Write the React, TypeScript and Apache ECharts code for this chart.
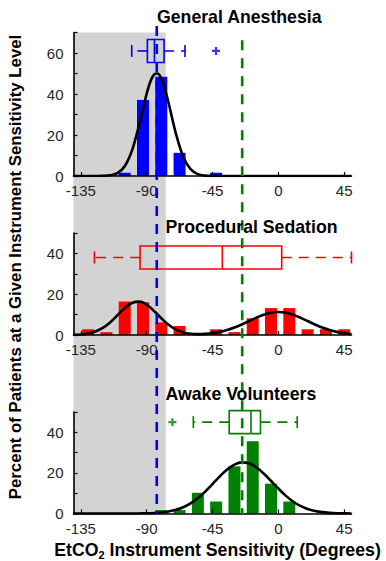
import React, { useEffect, useRef } from 'react';
import * as echarts from 'echarts';

// ---------- data ----------
const X_TICKS = [-135, -90, -45, 0, 45];

// General Anesthesia histogram (bin centres, percent)
const GA_BINS = [-105, -92.5, -80, -67.5, -42.5];
const GA_PCT = [1.6, 37.1, 48.4, 11.3, 1.6];
// Procedural Sedation histogram
const PS_BINS = [-130, -117.5, -105, -92.5, -80, -67.5, -42.5, -30, -17.5, -5, 7.5, 20, 32.5, 45];
const PS_PCT = [2.8, 1.4, 16.4, 16.0, 6.2, 4.4, 2.8, 1.4, 8.2, 13.2, 13.2, 2.8, 2.8, 2.8];
// Awake Volunteers histogram
const AV_BINS = [-80, -67.5, -55, -42.5, -30, -17.5, -5, 7.5];
const AV_PCT = [1.7, 1.7, 10.2, 5.9, 23.2, 35.6, 14.7, 5.9];

// fitted curves
const GA_FIT_X = [-140, -130, -125, -120, -115, -110, -105, -100, -95, -90, -87.5, -85, -82.5, -80, -77.5, -75, -70, -65, -60, -55, -50, -45, -40, -30, 50];
const GA_FIT_Y = [0, 0, 0.01, 0.06, 0.33, 1.43, 4.78, 12.5, 25.3, 40.1, 46.0, 49.5, 50.0, 47.5, 42.4, 35.6, 20.7, 9.4, 3.33, 0.92, 0.2, 0.03, 0, 0, 0];

const PS_FIT_X = [-140, -135, -130, -125, -120, -115, -110, -105, -100, -95, -90, -85, -80, -75, -70, -65, -60, -55, -50, -45, -40, -35, -30, -25, -20, -15, -10, -5, 0, 5, 10, 15, 20, 25, 30, 35, 40, 45, 50];
const PS_FIT_Y = [0.09, 0.27, 0.72, 1.69, 3.45, 6.18, 9.66, 13.2, 15.7, 16.36, 14.9, 11.8, 8.2, 5.0, 2.67, 1.28, 0.62, 0.43, 0.55, 0.91, 1.53, 2.44, 3.67, 5.17, 6.85, 8.53, 9.97, 10.95, 11.3, 10.95, 9.97, 8.53, 6.85, 5.17, 3.67, 2.44, 1.53, 0.9, 0.5];

const AV_FIT_X = [-140, -110, -100, -95, -90, -85, -80, -75, -70, -65, -60, -55, -50, -45, -40, -35, -30, -25, -20, -15, -10, -5, 0, 5, 10, 15, 20, 25, 30, 35, 40, 45, 50];
const AV_FIT_Y = [0, 0, 0.02, 0.05, 0.11, 0.24, 0.5, 0.98, 1.79, 3.08, 4.99, 7.58, 10.8, 14.5, 18.3, 21.7, 24.1, 25.2, 24.7, 22.8, 19.7, 16.0, 12.3, 8.8, 5.9, 3.76, 2.24, 1.25, 0.66, 0.33, 0.15, 0.07, 0.03];

// box plots: [lower whisker, Q1, median, Q3, upper whisker]
const GA_BOX = [-100.2, -89.5, -84.7, -78.1, -63.8];
const GA_OUTLIERS = [-42.6];
const PS_BOX = [-125.7, -94.5, -38.3, 2.3, 50];
const AV_BOX = [-58.1, -33.6, -18.7, -12.2, 12.9];
const AV_OUTLIERS = [-72.4];

// reference annotations
const SHADE_RANGE = [-140, -77];
const BLUE_LINE_X = -83.1;
const GREEN_LINE_X = -24.7;

// ---------- layout / style ----------
const FONT = "'Liberation Sans', Arial, Helvetica, sans-serif";
const BLUE = '#0000ff';
const RED = '#ff0000';
const GREEN = '#008000';
const BOX_Y = [61, 38, 45];

const GRID_LEFT = 73.5;
const GRID_W = 278;

function panelX(i: number) {
  return {
    type: 'value', gridIndex: i, min: -140, max: 50, z: 3,
    axisLine: { show: true, onZero: false, lineStyle: { color: '#000', width: 1.6 } },
    axisTick: { show: true, inside: true, length: 4, customValues: X_TICKS, lineStyle: { color: '#000', width: 1.2 } },
    axisLabel: { customValues: X_TICKS, margin: 7, fontSize: 15, color: '#262626', fontFamily: FONT },
    splitLine: { show: false },
  };
}
function panelY(i: number, max: number) {
  return {
    type: 'value', gridIndex: i, min: 0, max, interval: 10, z: 3,
    axisLine: { show: true, onZero: false, lineStyle: { color: '#000', width: 1.6 } },
    axisTick: { show: true, inside: true, length: 4, lineStyle: { color: '#000', width: 1.2 } },
    axisLabel: {
      formatter: (v: number) => (v % 20 === 0 ? String(v) : ''),
      margin: 10, fontSize: 15, color: '#262626', fontFamily: FONT,
    },
    splitLine: { show: false },
  };
}

function barSeries(i: number, bins: number[], pct: number[], color: string) {
  return {
    type: 'bar', xAxisIndex: i, yAxisIndex: i, z: 2, barWidth: 12,
    itemStyle: { color }, data: bins.map((b, k) => [b, pct[k]]),
  };
}
function fitSeries(i: number, xs: number[], ys: number[]) {
  return {
    type: 'line', xAxisIndex: i, yAxisIndex: i, z: 4, smooth: 0.35, symbol: 'none',
    lineStyle: { color: '#000', width: 2.6 }, data: xs.map((x, k) => [x, ys[k]]),
  };
}
function boxSeries(i: number, stats: number[], y: number, color: string) {
  return {
    type: 'custom', xAxisIndex: i, yAxisIndex: i, z: 4, clip: false,
    encode: { x: [1, 2, 3, 4, 5], y: 0 },
    data: [[y, ...stats]],
    renderItem: (params: any, api: any) => {
      const yc = api.value(0);
      const c = (x: number) => api.coord([x, yc]);
      const lo = c(api.value(1)), q1 = c(api.value(2)), md = c(api.value(3)), q3 = c(api.value(4)), hi = c(api.value(5));
      const Y = lo[1];
      const H = 11.5, CAP = 6;
      const solid = { stroke: color, lineWidth: 1.6, fill: 'none' };
      const dashed = { stroke: color, lineWidth: 1.6, lineDash: [10, 7] };
      return {
        type: 'group',
        children: [
          { type: 'rect', shape: { x: q1[0], y: Y - H, width: q3[0] - q1[0], height: 2 * H }, style: solid },
          { type: 'line', shape: { x1: md[0], y1: Y - H, x2: md[0], y2: Y + H }, style: solid },
          { type: 'line', shape: { x1: q1[0], y1: Y, x2: lo[0], y2: Y }, style: dashed },
          { type: 'line', shape: { x1: q3[0], y1: Y, x2: hi[0], y2: Y }, style: dashed },
          { type: 'line', shape: { x1: lo[0], y1: Y - CAP, x2: lo[0], y2: Y + CAP }, style: solid },
          { type: 'line', shape: { x1: hi[0], y1: Y - CAP, x2: hi[0], y2: Y + CAP }, style: solid },
        ],
      };
    },
  };
}
function outlierSeries(i: number, xs: number[], y: number, color: string) {
  return {
    type: 'scatter', xAxisIndex: i, yAxisIndex: i, z: 4,
    symbol: 'path://M3.6,0H6.4V3.6H10V6.4H6.4V10H3.6V6.4H0V3.6H3.6Z', symbolSize: 8,
    itemStyle: { color }, data: xs.map((x) => [x, y]),
  };
}
function vLineSeries(x: number, top: number, color: string) {
  return {
    type: 'custom', xAxisIndex: 3, yAxisIndex: 3, z: 6, silent: true, clip: false,
    encode: { x: 0, y: [1, 2] },
    data: [[x, 0, top]],
    renderItem: (params: any, api: any) => {
      const p0 = api.coord([api.value(0), api.value(2)]);
      const p1 = api.coord([api.value(0), api.value(1)]);
      return {
        type: 'line',
        shape: { x1: p0[0], y1: p0[1], x2: p1[0], y2: p1[1] },
        style: { stroke: color, lineWidth: 2.6, lineDash: [10, 8] },
      };
    },
  };
}

const option: any = {
  animation: false,
  grid: [
    { left: GRID_LEFT, top: 32.5, width: GRID_W, height: 143.5, outerBoundsMode: 'none' },
    { left: GRID_LEFT, top: 233, width: GRID_W, height: 102, outerBoundsMode: 'none' },
    { left: GRID_LEFT, top: 412, width: GRID_W, height: 101.5, outerBoundsMode: 'none' },
    { left: GRID_LEFT, top: 26, width: GRID_W, height: 487.5, outerBoundsMode: 'none' },
  ],
  xAxis: [
    panelX(0), panelX(1), panelX(2),
    { type: 'value', gridIndex: 3, min: -140, max: 50, show: false },
  ],
  yAxis: [
    panelY(0, 70), panelY(1, 50), panelY(2, 50),
    { type: 'value', gridIndex: 3, min: 0, max: 1, show: false },
  ],
  series: [
    {
      type: 'custom', xAxisIndex: 3, yAxisIndex: 3, z: 1, silent: true,
      encode: { x: [0, 1], y: [2, 3] },
      data: [[SHADE_RANGE[0], SHADE_RANGE[1], 0, 0.9867]],
      renderItem: (params: any, api: any) => {
        const p0 = api.coord([api.value(0), api.value(3)]);
        const p1 = api.coord([api.value(1), api.value(2)]);
        return { type: 'rect', shape: { x: p0[0], y: p0[1], width: p1[0] - p0[0], height: p1[1] - p0[1] }, style: { fill: '#d3d3d3' } };
      },
    },
    barSeries(0, GA_BINS, GA_PCT, BLUE),
    barSeries(1, PS_BINS, PS_PCT, RED),
    barSeries(2, AV_BINS, AV_PCT, GREEN),
    fitSeries(0, GA_FIT_X, GA_FIT_Y),
    fitSeries(1, PS_FIT_X, PS_FIT_Y),
    fitSeries(2, AV_FIT_X, AV_FIT_Y),
    boxSeries(0, GA_BOX, BOX_Y[0], BLUE),
    boxSeries(1, PS_BOX, BOX_Y[1], RED),
    boxSeries(2, AV_BOX, BOX_Y[2], GREEN),
    outlierSeries(0, GA_OUTLIERS, BOX_Y[0], BLUE),
    outlierSeries(2, AV_OUTLIERS, BOX_Y[2], GREEN),
    vLineSeries(BLUE_LINE_X, 1, BLUE),
    vLineSeries(GREEN_LINE_X, 0.971, GREEN),
  ],
  graphic: [
    { type: 'text', z: 10, left: 157, top: 8, style: { text: 'General Anesthesia', font: `bold 17.7px ${FONT}`, fill: '#000' } },
    { type: 'text', z: 10, left: 165.5, top: 218, style: { text: 'Procedural Sedation', font: `bold 17.7px ${FONT}`, fill: '#000' } },
    { type: 'text', z: 10, left: 165.5, top: 385, style: { text: 'Awake Volunteers', font: `bold 17.7px ${FONT}`, fill: '#000' } },
    {
      type: 'text', z: 10, x: 15, y: 267, rotation: Math.PI / 2,
      style: {
        text: 'Percent of Patients at a Given Instrument Sensitivity Level',
        font: `bold 16.8px ${FONT}`, fill: '#000', align: 'center', verticalAlign: 'middle',
      },
    },
    {
      type: 'text', z: 10, x: 217.5, y: 550,
      style: {
        text: '{a|EtCO}{s|2}{a| Instrument Sensitivity (Degrees)}',
        align: 'center', verticalAlign: 'middle',
        rich: {
          a: { fontFamily: FONT, fontWeight: 'bold', fontSize: 17.7, fill: '#000', lineHeight: 20 },
          s: { fontFamily: FONT, fontWeight: 'bold', fontSize: 11, fill: '#000', lineHeight: 20, verticalAlign: 'bottom', padding: [8, 0, 0, 0] },
        },
      },
    },
  ],
};

export default function App() {
  const ref = useRef<HTMLDivElement>(null);
  useEffect(() => {
    document.body.style.margin = '0';
    const chart = echarts.init(ref.current as HTMLDivElement, null, { renderer: 'svg' });
    chart.setOption(option);
    return () => chart.dispose();
  }, []);
  return <div ref={ref} style={{ width: 386, height: 561 }} />;
}
